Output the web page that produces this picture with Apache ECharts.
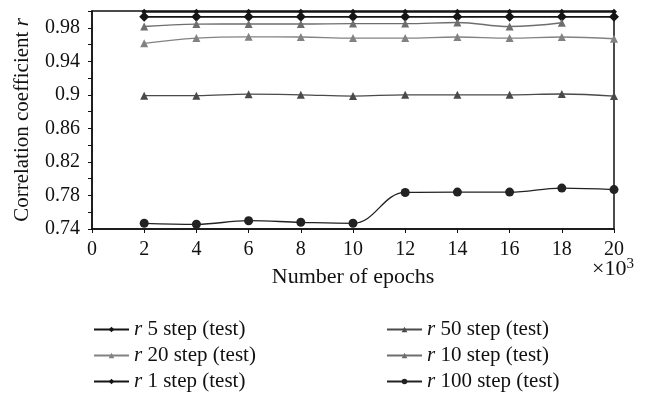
<!DOCTYPE html>
<html>
<head>
<meta charset="utf-8">
<script src="https://cdn.jsdelivr.net/npm/echarts@6/dist/echarts.min.js"></script>
<style>html,body{margin:0;padding:0;background:#fff}#c{width:647px;height:397px}</style>
</head>
<body>
<div id="c"></div>
<script>
var epochs = [2, 4, 6, 8, 10, 12, 14, 16, 18, 20];
var r5 = [0.993, 0.993, 0.993, 0.993, 0.993, 0.993, 0.993, 0.993, 0.993, 0.993];
var r50 = [0.899, 0.899, 0.9008, 0.900, 0.8985, 0.900, 0.900, 0.900, 0.901, 0.8985];
var r20 = [0.9614, 0.9677, 0.9692, 0.969, 0.9677, 0.9677, 0.969, 0.9677, 0.969, 0.9669];
var r10 = [0.9815, 0.9844, 0.9845, 0.9845, 0.985, 0.985, 0.9863, 0.9815, 0.986, null];
var r1 = [0.999, 0.999, 0.999, 0.999, 0.999, 0.999, 0.999, 0.999, 0.999, 0.999];
var r100 = [0.7468, 0.7456, 0.7499, 0.748, 0.7468, 0.7836, 0.784, 0.784, 0.7888, 0.787];
var xTicks = [0, 2, 4, 6, 8, 10, 12, 14, 16, 18, 20];
var yLabels = [0.74, 0.78, 0.82, 0.86, 0.9, 0.94, 0.98];

var FONT = "'Liberation Serif', 'DejaVu Serif', serif";
function pairs(vals) { return epochs.map(function (e, i) { return [e, vals[i]]; }).filter(function (p) { return p[1] !== null; }); }
function mk(name, vals, color, symbol, size, lw) {
  return { name: name, type: 'line', data: pairs(vals), smooth: 0.4, symbol: symbol, symbolSize: size,
    lineStyle: { color: color, width: lw }, itemStyle: { color: color }, emphasis: { disabled: true }, z: 3 };
}
var legendText = { fontFamily: FONT, fontSize: 21, color: '#111', lineHeight: 21,
  rich: {
    i: { fontFamily: FONT, fontSize: 21, fontStyle: 'italic', color: '#111', lineHeight: 21 }
  } };
var fmt = function (n) { return '{i|r}' + n.slice(1); };

var chart = echarts.init(document.getElementById('c'), null, { renderer: 'canvas' });
chart.setOption({
  animation: false,
  backgroundColor: '#fff',
  grid: { left: 92, right: 33, top: 11, bottom: 168, show: true, borderColor: '#111', borderWidth: 1.5, backgroundColor: 'transparent' },
  xAxis: {
    type: 'value', min: 0, max: 20, interval: 2,
    axisLine: { show: true, lineStyle: { color: '#111', width: 1.5 } },
    axisTick: { show: true, length: 4, lineStyle: { color: '#111' } },
    splitLine: { show: false },
    axisLabel: { fontFamily: FONT, fontSize: 20, color: '#111', margin: 11,
      formatter: function (v) { return xTicks.indexOf(v) >= 0 ? String(v) : ''; } },
    name: 'Number of epochs', nameLocation: 'middle', nameGap: 37,
    nameTextStyle: { fontFamily: FONT, fontSize: 22, color: '#111' }
  },
  yAxis: {
    type: 'value', min: 0.74, max: 1.0, interval: 0.02,
    axisLine: { show: true, lineStyle: { color: '#111', width: 1.5 } },
    axisTick: { show: true, length: 4, lineStyle: { color: '#111' } },
    splitLine: { show: false },
    axisLabel: { fontFamily: FONT, fontSize: 20, color: '#111', margin: 12,
      formatter: function (v) {
        var s = parseFloat(v.toFixed(2));
        for (var i = 0; i < yLabels.length; i++) if (Math.abs(yLabels[i] - s) < 1e-6) return String(s);
        return '';
      } },
    name: 'Correlation coefficient {i|r}', nameLocation: 'middle', nameGap: 59, nameRotate: 90,
    nameTextStyle: { fontFamily: FONT, fontSize: 21, color: '#111',
      rich: { i: { fontFamily: FONT, fontSize: 21, fontStyle: 'italic', color: '#111' } } }
  },
  legend: [
    { orient: 'vertical', left: 88, top: 314, height: 90, itemWidth: 35, itemHeight: 7, itemGap: 5,
      data: ['r 5 step (test)', 'r 20 step (test)', 'r 1 step (test)'], formatter: fmt, textStyle: legendText },
    { orient: 'vertical', left: 381, top: 314, height: 90, itemWidth: 35, itemHeight: 7, itemGap: 5,
      data: ['r 50 step (test)', 'r 10 step (test)', 'r 100 step (test)'], formatter: fmt, textStyle: legendText }
  ],
  graphic: [{
    type: 'text', left: 592, top: 257,
    style: { text: '×10{s|3}', fontFamily: FONT, fontSize: 22, fill: '#111',
      rich: { s: { fontFamily: FONT, fontSize: 15, verticalAlign: 'top', fill: '#111', padding: [0, 0, 9, 0] } } }
  }],
  series: [
    mk('r 5 step (test)', r5, '#151515', 'diamond', 10, 1.6),
    mk('r 50 step (test)', r50, '#4a4a4a', 'triangle', 8, 1.3),
    mk('r 20 step (test)', r20, '#828282', 'triangle', 8, 1.3),
    mk('r 10 step (test)', r10, '#6e6e6e', 'triangle', 8, 1.3),
    mk('r 1 step (test)', r1, '#151515', 'diamond', 6, 1.6),
    mk('r 100 step (test)', r100, '#222222', 'circle', 9, 1.3)
  ]
});
</script>
</body>
</html>
